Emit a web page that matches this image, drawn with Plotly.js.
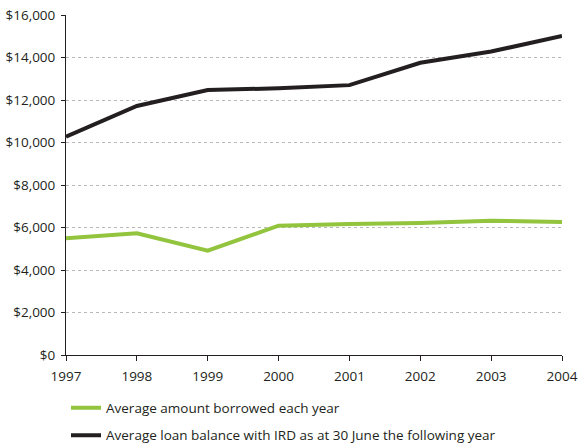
<!DOCTYPE html>
<html>
<head>
<meta charset="utf-8">
<script src="https://cdn.plot.ly/plotly-3.0.1.min.js"></script>
<style>
  html, body { margin: 0; padding: 0; background: #fff; }
  #chart { width: 580px; height: 446px; }
</style>
</head>
<body>
<div id="chart"></div>
<script>
// Student loan figures by year (NZ$)
const years = [1997, 1998, 1999, 2000, 2001, 2002, 2003, 2004];
const avgBorrowed = [5490, 5725, 4910, 6085, 6165, 6210, 6320, 6260];
const avgBalance = [10270, 11720, 12470, 12550, 12700, 13750, 14280, 15010];
const yTickVals = [0, 2000, 4000, 6000, 8000, 10000, 12000, 14000, 16000];
const yTickText = ['$0', '$2,000', '$4,000', '$6,000', '$8,000', '$10,000', '$12,000', '$14,000', '$16,000'];
const seriesNames = [
  'Average amount borrowed each year',
  'Average loan balance with IRD as at 30 June the following year'
];

const textColor = '#231f20';
const fontFamily = 'Open Sans, sans-serif';

const traces = [
  {
    x: years, y: avgBorrowed, name: seriesNames[0], type: 'scatter', mode: 'lines',
    line: { color: '#92c43e', width: 4 }, legendgroup: 'a'
  },
  {
    x: years, y: avgBalance, name: seriesNames[1], type: 'scatter', mode: 'lines',
    line: { color: '#231f20', width: 4 }, legendgroup: 'b'
  }
];

const layout = {
  width: 580, height: 446,
  margin: { l: 66, r: 18, t: 15, b: 91, autoexpand: false },
  paper_bgcolor: '#fff', plot_bgcolor: '#fff',
  font: { family: fontFamily, size: 13.5, color: textColor },
  showlegend: true,
  legend: {
    orientation: 'v', x: 0, xanchor: 'left', y: -0.11, yanchor: 'top',
    itemwidth: 30, traceorder: 'grouped', tracegroupgap: 7,
    font: { family: fontFamily, size: 13.5, color: textColor }
  },
  xaxis: {
    range: [1997, 2004], tickmode: 'array', tickvals: years,
    ticks: 'outside', ticklen: 5, tickcolor: textColor, tickwidth: 1,
    ticklabelstandoff: 4,
    showline: true, linecolor: textColor, linewidth: 1,
    showgrid: false, zeroline: false, fixedrange: true,
    tickfont: { family: fontFamily, size: 13.5, color: textColor }
  },
  yaxis: {
    range: [0, 16000], tickmode: 'array', tickvals: yTickVals, ticktext: yTickText,
    ticks: 'outside', ticklen: 4, tickcolor: textColor, tickwidth: 1,
    ticklabelstandoff: 3,
    showline: true, linecolor: textColor, linewidth: 1,
    showgrid: true, gridcolor: '#b8b8b8', gridwidth: 1, griddash: '3px,3px',
    zeroline: false, fixedrange: true,
    tickfont: { family: fontFamily, size: 13.5, color: textColor }
  }
};

Plotly.newPlot('chart', traces, layout, { displayModeBar: false, staticPlot: true });
</script>
</body>
</html>
